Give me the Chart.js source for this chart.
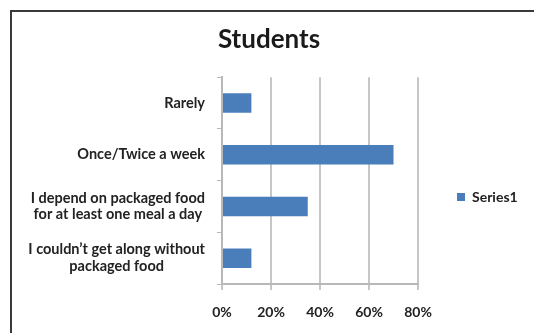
<!DOCTYPE html>
<html>
<head>
<meta charset="utf-8">
<title>Students</title>
<script src="https://cdn.jsdelivr.net/npm/chart.js@4.4.1/dist/chart.umd.min.js"></script>
<style>
  html, body { margin: 0; padding: 0; background: #fff; }
  #wrap { position: relative; width: 534px; height: 333px; overflow: hidden; }
  #frame {
    position: absolute; left: 10px; top: 10px; width: 600px; height: 400px;
    border-left: 2px solid #3a3a3a; border-top: 2px solid #3a3a3a;
  }
  #studentsChart { position: absolute; left: 0; top: 0; }
</style>
</head>
<body>
<div id="wrap">
  <div id="frame"></div>
  <canvas id="studentsChart" width="534" height="378"></canvas>
</div>
<script>
const categories = [
  'Rarely',
  'Once/Twice a week',
  ['I depend on packaged food', 'for at least one meal a day'],
  ['I couldn\u2019t get along without', 'packaged food']
];
const seriesName = 'Series1';
const seriesValues = [12, 70, 35, 12];
const xTickLabels = ['0%', '20%', '40%', '60%', '80%'];

const labelFont = 'Lato, "Open Sans", sans-serif';
const textColor = '#222';

// category labels: block right-aligned to the axis, lines centred inside the block
const categoryLabels = {
  id: 'categoryLabels',
  afterDraw(chart) {
    const scale = chart.scales.y;
    const ctx = chart.ctx;
    const lineHeight = 16.7;
    ctx.save();
    ctx.font = 'bold 14.5px ' + labelFont;
    ctx.fillStyle = textColor;
    ctx.textAlign = 'center';
    ctx.textBaseline = 'middle';
    const right = scale.right - 17;
    scale.ticks.forEach((tick, i) => {
      const lines = [].concat(categories[i]);
      const w = Math.max(...lines.map(l => ctx.measureText(l).width));
      const cx = right - w / 2;
      const cy = scale.getPixelForTick(i);
      lines.forEach((line, j) => {
        ctx.fillText(line, cx, cy + (j - (lines.length - 1) / 2) * lineHeight);
      });
    });
    ctx.restore();
  }
};

new Chart(document.getElementById('studentsChart'), {
  type: 'bar',
  data: {
    labels: categories,
    datasets: [{
      label: seriesName,
      data: seriesValues,
      backgroundColor: '#4a7ebb',
      borderWidth: 0,
      barPercentage: 1,
      categoryPercentage: 0.377
    }]
  },
  options: {
    indexAxis: 'y',
    responsive: false,
    animation: false,
    layout: { padding: { top: 16, left: 12, right: 8, bottom: 0 } },
    scales: {
      x: {
        min: 0,
        max: 80,
        ticks: {
          stepSize: 20,
          padding: 14,
          color: textColor,
          font: { family: labelFont, size: 14, weight: 'bold' },
          callback: (v, i) => xTickLabels[i]
        },
        grid: { color: '#c6c6c6', lineWidth: 2, tickLength: 6 },
        border: { color: '#b8b8b8', width: 2 },
        afterFit: s => { s.height = 94; }
      },
      y: {
        ticks: { display: false },
        grid: { drawOnChartArea: false, tickLength: 5, color: '#b8b8b8', lineWidth: 1 },
        border: { color: '#b8b8b8', width: 2 },
        afterFit: s => { s.width = 210; }
      }
    },
    plugins: {
      title: {
        display: true,
        text: 'Students',
        color: '#1a1a1a',
        font: { family: labelFont, size: 26, weight: 'bold' },
        padding: { top: 8, bottom: 22 }
      },
      legend: {
        position: 'right',
        maxWidth: 108,
        labels: {
          boxWidth: 8,
          boxHeight: 8,
          padding: 39,
          color: textColor,
          font: { family: labelFont, size: 14, weight: 'bold' }
        }
      },
      tooltip: { enabled: false }
    }
  },
  plugins: [categoryLabels]
});
</script>
</body>
</html>
